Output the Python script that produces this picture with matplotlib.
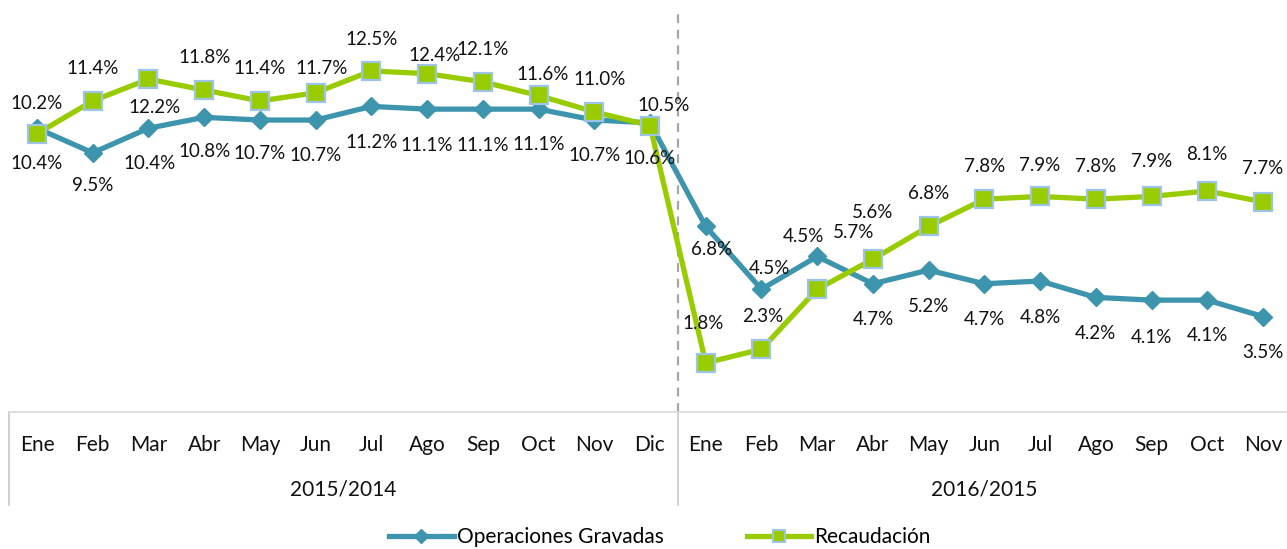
import matplotlib
matplotlib.use("Agg")
import matplotlib.pyplot as plt
from matplotlib.lines import Line2D
import matplotlib.transforms as mtransforms

# Monthly year-over-year growth (%)
months = ["Ene", "Feb", "Mar", "Abr", "May", "Jun", "Jul", "Ago", "Sep", "Oct", "Nov", "Dic",
          "Ene", "Feb", "Mar", "Abr", "May", "Jun", "Jul", "Ago", "Sep", "Oct", "Nov"]
periods = ["2015/2014", "2016/2015"]
period_lengths = [12, 11]

operaciones = [10.4, 9.5, 10.4, 10.8, 10.7, 10.7, 11.2, 11.1, 11.1, 11.1, 10.7, 10.6,
               6.8, 4.5, 5.7, 4.7, 5.2, 4.7, 4.8, 4.2, 4.1, 4.1, 3.5]
recaudacion = [10.2, 11.4, 12.2, 11.8, 11.4, 11.7, 12.5, 12.4, 12.1, 11.6, 11.0, 10.5,
               1.8, 2.3, 4.5, 5.6, 6.8, 7.8, 7.9, 7.8, 7.9, 8.1, 7.7]

# Data-label placement (pixel offsets from each point)
off_oper = [(0, 35), (0, 33), (1, 35), (0, 34), (0, 33), (0, 35), (0, 36), (0, 36), (0, 36),
            (0, 35), (0, 35), (0, 36), (6, 23), (8, -21), (36, -24), (0, 36), (0, 36), (0, 36),
            (0, 36), (0, 36), (0, 37), (0, 35), (0, 36)]
off_reca = [(0, -30), (0, -32), (6, 28), (0, -33), (0, -32), (6, -24), (0, -31), (7, -18),
            (0, -32), (4, -21), (5, -32), (14, -20), (-3, -39), (1, -33), (-14, -53), (0, -47),
            (0, -33), (0, -33), (0, -31), (0, -33), (0, -35), (0, -36), (0, -33)]

BLUE = "#3D95AD"
GREEN = "#99CC00"
EDGE = "#9DC3E6"
GRID = "#D9D9D9"
FONT = "Lato"
LABEL_SIZE = 13.5
AXIS_SIZE = 15

W, H = 1287, 549
fig = plt.figure(figsize=(W / 100, H / 100), dpi=100)
n = len(months)
step = (1263 - 37) / (n - 1)
left_px = 37 - step / 2
right_px = 1263 + step / 2
top_px, bot_px = 12, 412
ax = fig.add_axes([left_px / W, 1 - bot_px / H, (right_px - left_px) / W, (bot_px - top_px) / H])
ax.set_xlim(-0.5, n - 0.5)
ax.set_ylim(0, 14.66)
for s in ["top", "right", "left"]:
    ax.spines[s].set_visible(False)
ax.spines["bottom"].set_color(GRID)
ax.spines["bottom"].set_linewidth(1.2)
ax.set_xticks([])
ax.set_yticks([])

x = list(range(n))
ax.plot(x, operaciones, color=BLUE, lw=3.8, marker="D", ms=9.5, mfc=BLUE, mec=BLUE,
        zorder=3, solid_joinstyle="round")
ax.plot(x, recaudacion, color=GREEN, lw=3.8, marker="s", ms=12.5, mfc=GREEN, mec=EDGE,
        mew=1.6, zorder=4, solid_joinstyle="round")

for xi, v, (dx, dy) in zip(x, operaciones, off_oper):
    ax.annotate(f"{v:.1f}%", (xi, v), xytext=(dx, -dy), textcoords="offset pixels",
                ha="center", va="center", fontsize=LABEL_SIZE, family=FONT, color="#111111",
                zorder=6)
for xi, v, (dx, dy) in zip(x, recaudacion, off_reca):
    ax.annotate(f"{v:.1f}%", (xi, v), xytext=(dx, -dy), textcoords="offset pixels",
                ha="center", va="center", fontsize=LABEL_SIZE, family=FONT, color="#111111",
                zorder=6)

# Divider between the two periods
split = period_lengths[0] - 0.5
ax.axvline(split, color="#A6A6A6", lw=1.6, ls=(0, (4, 3)), zorder=1)

# Two-level category axis
trans = mtransforms.blended_transform_factory(ax.transData, ax.transAxes)
month_y = (bot_px - 445) / (bot_px - top_px)
year_y = (bot_px - 490) / (bot_px - top_px)
bottom_y = (bot_px - 505) / (bot_px - top_px)
for xi, m in zip(x, months):
    ax.text(xi, month_y, m, transform=trans, ha="center", va="center", fontsize=AXIS_SIZE,
            family=FONT, color="#111111", clip_on=False)
start = 0
for p, ln in zip(periods, period_lengths):
    ax.text(start + (ln - 1) / 2, year_y, p, transform=trans, ha="center", va="center",
            fontsize=AXIS_SIZE, family=FONT, color="#111111", clip_on=False)
    start += ln
for bx in [-0.5, split, n - 0.5]:
    ax.add_line(Line2D([bx, bx], [0, bottom_y], transform=trans, color="#C8C8C8", lw=1.2,
                       clip_on=False))

handles = [
    Line2D([], [], color=BLUE, lw=3.8, marker="D", ms=7, mfc=BLUE, mec=BLUE),
    Line2D([], [], color=GREEN, lw=3.8, marker="s", ms=9, mfc=GREEN, mec=EDGE, mew=1.4),
]
fig.legend(handles, ["Operaciones Gravadas", "Recaudación"], loc="center",
           bbox_to_anchor=(660 / W, 1 - 537 / H), ncol=2, frameon=False,
           prop={"family": FONT, "size": AXIS_SIZE}, handlelength=3.1, handletextpad=0.15,
           columnspacing=4.0, borderpad=0)

fig.savefig("out.png", dpi=100)
